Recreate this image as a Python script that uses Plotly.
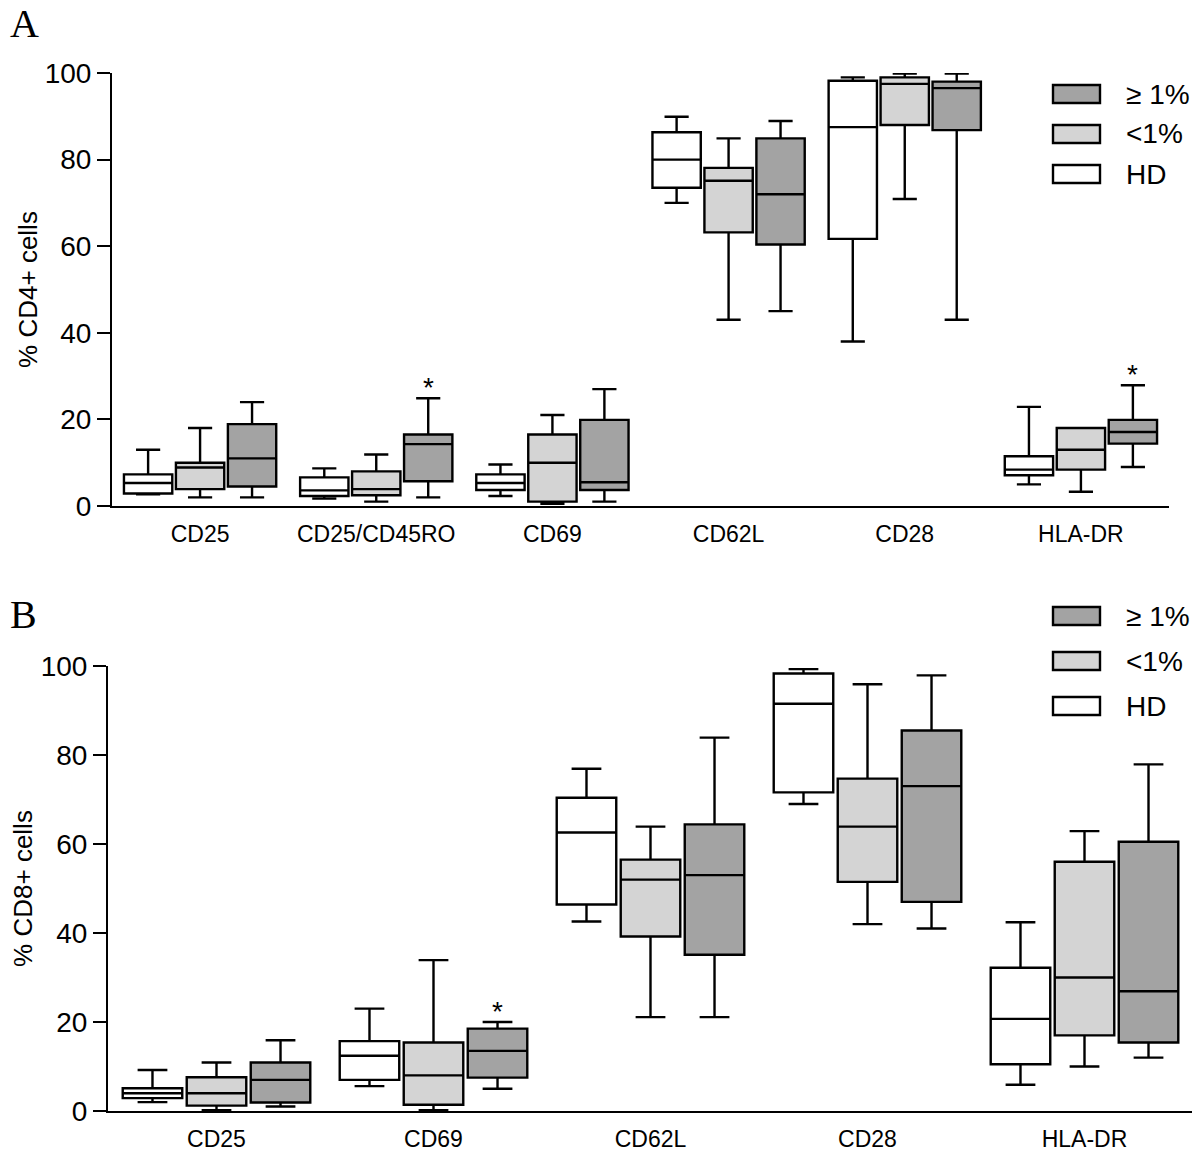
import plotly.graph_objects as go

# The page places the figure 8 px from the top-left corner (default body margin),
# so the figure is 8 px smaller and every pixel position below is shifted by OFF.
OFF = 8
W, H = 1200 - OFF, 1152 - OFF

# ---------------- data ----------------
groups = ["HD", "<1%", "≥ 1%"]
group_colors = ["#ffffff", "#d4d4d4", "#a3a3a3"]

# Panel A: % CD4+ cells
cats_A = ["CD25", "CD25/CD45RO", "CD69", "CD62L", "CD28", "HLA-DR"]
A_HD_low = [2.7, 1.7, 2.3, 70.0, 38.0, 5.0]
A_HD_q1 = [2.9, 2.3, 3.7, 73.5, 61.7, 7.1]
A_HD_med = [5.3, 3.6, 5.3, 80.0, 87.5, 8.4]
A_HD_q3 = [7.3, 6.6, 7.3, 86.3, 98.2, 11.5]
A_HD_up = [13.0, 8.7, 9.6, 89.9, 99.0, 22.9]

A_L1_low = [2.0, 1.0, 0.5, 43.0, 70.9, 3.3]
A_L1_q1 = [3.9, 2.5, 1.0, 63.2, 88.0, 8.4]
A_L1_med = [8.9, 3.9, 10.0, 75.1, 97.5, 13.0]
A_L1_q3 = [10.0, 8.0, 16.5, 78.1, 99.0, 18.0]
A_L1_up = [18.0, 11.9, 21.0, 84.9, 99.9, 18.0]

A_G1_low = [2.0, 2.0, 1.0, 45.0, 43.0, 9.0]
A_G1_q1 = [4.5, 5.7, 3.7, 60.4, 86.8, 14.4]
A_G1_med = [11.0, 14.3, 5.5, 72.0, 96.5, 17.1]
A_G1_q3 = [18.9, 16.5, 19.9, 84.9, 98.0, 19.9]
A_G1_up = [24.0, 24.9, 27.0, 88.9, 99.9, 27.9]

sig_A = [("CD25/CD45RO", "≥ 1%"), ("HLA-DR", "≥ 1%")]

# Panel B: % CD8+ cells
cats_B = ["CD25", "CD69", "CD62L", "CD28", "HLA-DR"]
B_HD_low = [2.0, 5.6, 42.6, 69.0, 5.9]
B_HD_q1 = [2.9, 7.0, 46.4, 71.6, 10.5]
B_HD_med = [4.0, 12.4, 62.6, 91.5, 20.7]
B_HD_q3 = [5.1, 15.7, 70.4, 98.3, 32.2]
B_HD_up = [9.2, 23.0, 76.9, 99.3, 42.4]

B_L1_low = [0.2, 0.2, 21.1, 42.0, 10.0]
B_L1_q1 = [1.2, 1.4, 39.2, 51.5, 17.0]
B_L1_med = [4.0, 8.0, 52.0, 63.9, 30.0]
B_L1_q3 = [7.6, 15.4, 56.5, 74.7, 56.0]
B_L1_up = [10.9, 33.9, 63.9, 95.9, 62.9]

B_G1_low = [1.0, 5.0, 21.1, 41.0, 12.0]
B_G1_q1 = [1.9, 7.5, 35.1, 47.0, 15.4]
B_G1_med = [7.0, 13.5, 53.0, 73.0, 26.9]
B_G1_q3 = [10.9, 18.5, 64.4, 85.5, 60.5]
B_G1_up = [15.9, 20.0, 83.9, 97.9, 77.9]

sig_B = [("CD69", "≥ 1%")]

yticks = [0, 20, 40, 60, 80, 100]

# ---------------- figure ----------------
FONT = "Liberation Sans, Arial, Helvetica, sans-serif"
BOXGAP = 0.115
BOXGROUPGAP = 0.07

stats_A = [
    (A_HD_low, A_HD_q1, A_HD_med, A_HD_q3, A_HD_up),
    (A_L1_low, A_L1_q1, A_L1_med, A_L1_q3, A_L1_up),
    (A_G1_low, A_G1_q1, A_G1_med, A_G1_q3, A_G1_up),
]
stats_B = [
    (B_HD_low, B_HD_q1, B_HD_med, B_HD_q3, B_HD_up),
    (B_L1_low, B_L1_q1, B_L1_med, B_L1_q3, B_L1_up),
    (B_G1_low, B_G1_q1, B_G1_med, B_G1_q3, B_G1_up),
]

fig = go.Figure()


def add_panel(cats, stats, xa, ya):
    for g, (name, col, st) in enumerate(zip(groups, group_colors, stats)):
        lo, q1, med, q3, up = st
        fig.add_trace(go.Box(
            x=cats, lowerfence=lo, q1=q1, median=med, q3=q3, upperfence=up,
            name=name, fillcolor=col, line=dict(color="black", width=2.4),
            whiskerwidth=0.5, boxpoints=False, showlegend=False,
            xaxis=xa, yaxis=ya, offsetgroup=str(g),
        ))


add_panel(cats_A, stats_A, "x", "y")
add_panel(cats_B, stats_B, "x2", "y2")


def fx(px):
    return (px - OFF) / W


def fy(py):
    return 1 - (py - OFF) / H


# plot-area pixel geometry (page pixels)
A_left, A_right, A_top, A_bot = 112, 1169, 73, 506
B_left, B_right, B_top, B_bot = 108, 1193, 666, 1111

axis_common = dict(showline=True, linecolor="black", linewidth=2,
                   showgrid=False, zeroline=False, mirror=False,
                   automargin=False)

fig.update_layout(
    width=W, height=H,
    margin=dict(l=0, r=0, t=0, b=0, pad=0, autoexpand=False),
    paper_bgcolor="white", plot_bgcolor="white",
    boxmode="group", boxgap=BOXGAP, boxgroupgap=BOXGROUPGAP,
    font=dict(family=FONT, color="black"),
    showlegend=False,
    xaxis=dict(domain=[fx(A_left), fx(A_right)], anchor="y", type="category",
               categoryorder="array", categoryarray=cats_A,
               range=[-0.5, len(cats_A) - 0.5], ticks="",
               tickfont=dict(size=23), ticklabelstandoff=6, **axis_common),
    yaxis=dict(domain=[fy(A_bot), fy(A_top)], anchor="x",
               range=[0, 100], tickvals=yticks, ticks="outside", ticklen=13,
               tickwidth=2, tickcolor="black", tickfont=dict(size=28),
               title=dict(text="% CD4+ cells", font=dict(size=26), standoff=0),
               **axis_common),
    xaxis2=dict(domain=[fx(B_left), fx(B_right)], anchor="y2", type="category",
                categoryorder="array", categoryarray=cats_B,
                range=[-0.5, len(cats_B) - 0.5], ticks="",
                tickfont=dict(size=23), ticklabelstandoff=6, **axis_common),
    yaxis2=dict(domain=[fy(B_bot), fy(B_top)], anchor="x2",
                range=[0, 100], tickvals=yticks, ticks="outside", ticklen=13,
                tickwidth=2, tickcolor="black", tickfont=dict(size=28),
                title=dict(text="% CD8+ cells", font=dict(size=26), standoff=3),
                **axis_common),
)

# significance asterisks (positioned from the box layout parameters)
slot = (1 - BOXGAP) / len(groups)


def add_sig(sigs, cats, stats, xref, yref):
    for cat, grp in sigs:
        ci = cats.index(cat)
        gi = groups.index(grp)
        offset = (gi - (len(groups) - 1) / 2) * slot
        fig.add_annotation(x=ci + offset, y=stats[gi][4][ci], xref=xref, yref=yref,
                           text="*", showarrow=False, yanchor="bottom",
                           yshift=-7, font=dict(size=28, color="black"))


add_sig(sig_A, cats_A, stats_A, "x", "y")
add_sig(sig_B, cats_B, stats_B, "x2", "y2")

# panel letters
for letter, py in [("A", 24), ("B", 614)]:
    fig.add_annotation(x=0, y=fy(py), xref="paper", yref="paper",
                       xanchor="left", yanchor="middle", text=letter, showarrow=False,
                       font=dict(family="Liberation Serif, Times New Roman, serif",
                                 size=40, color="black"))

# legends (drawn as swatches + labels, top entry = last group)
legend_rows = {"A": [94, 134, 174], "B": [616, 661, 706]}
for panel, rows in legend_rows.items():
    for r, gi in enumerate(reversed(range(len(groups)))):
        cy = rows[r]
        fig.add_shape(type="rect", xref="paper", yref="paper",
                      x0=fx(1053), x1=fx(1100),
                      y0=fy(cy + 9), y1=fy(cy - 9),
                      fillcolor=group_colors[gi], line=dict(color="black", width=2.4))
        fig.add_annotation(x=fx(1124), y=fy(cy), xref="paper", yref="paper",
                           xanchor="left", yanchor="middle", text=groups[gi],
                           showarrow=False, font=dict(size=28, color="black"))

fig.write_html("out.html")
